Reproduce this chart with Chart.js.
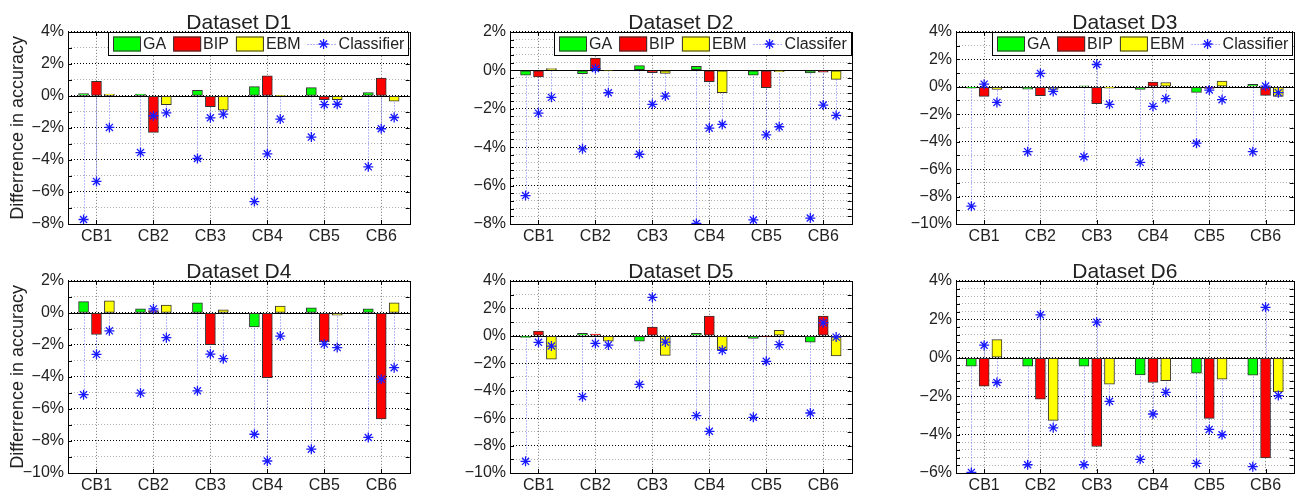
<!DOCTYPE html>
<html>
<head>
<meta charset="utf-8">
<script src="https://cdn.jsdelivr.net/npm/chart.js@4.4.0/dist/chart.umd.min.js"></script>
<style>
  body { margin: 0; background: #fff; width: 1299px; height: 497px; overflow: hidden; position: relative; }
  .panel { position: absolute; }
</style>
</head>
<body>
<script>
var categories = ['CB1', 'CB2', 'CB3', 'CB4', 'CB5', 'CB6'];
var methods = ['GA', 'BIP', 'EBM'];

// D1
var gaD1  = [0.15, 0.12, 0.35, 0.58, 0.52, 0.21];
var bipD1 = [0.91, -2.28, -0.68, 1.26, -0.23, 1.12];
var ebmD1 = [0.12, -0.54, -0.89, 0.02, -0.23, -0.33];
var clsD1 = [[-7.72, -5.34, -1.97], [-3.54, -1.24, -1.06], [-3.91, -1.37, -1.14], [-6.6, -3.62, -1.45], [-2.57, -0.54, -0.52], [-4.43, -2.05, -1.35]];
// D2
var gaD2  = [-0.26, -0.17, 0.24, 0.21, -0.26, -0.14];
var bipD2 = [-0.35, 0.63, -0.12, -0.59, -0.9, -0.1];
var ebmD2 = [0.09, -0.03, -0.16, -1.17, -0.07, -0.47];
var clsD2 = [[-6.52, -2.23, -1.41], [-4.09, 0.09, -1.17], [-4.37, -1.77, -1.34], [-7.97, -3.01, -2.82], [-7.79, -3.36, -2.94], [-7.69, -1.81, -2.35]];
// D3
var gaD3  = [-0.1, -0.17, 0.07, -0.19, -0.41, 0.17];
var bipD3 = [-0.7, -0.65, -1.23, 0.34, -0.12, -0.63];
var ebmD3 = [-0.19, -0.19, -0.1, 0.31, 0.41, -0.7];
var clsD3 = [[-8.7, 0.19, -1.14], [-4.73, 0.97, -0.34], [-5.1, 1.62, -1.28], [-5.51, -1.43, -0.87], [-4.11, -0.24, -0.94], [-4.73, 0.05, -0.43]];
// D4
var gaD4  = [0.7, 0.25, 0.62, -0.87, 0.31, 0.25];
var bipD4 = [-1.35, 0.14, -1.99, -4.04, -1.82, -6.63];
var ebmD4 = [0.75, 0.48, 0.19, 0.43, -0.14, 0.62];
var clsD4 = [[-5.11, -2.59, -1.12], [-5.01, 0.25, -1.55], [-4.87, -2.57, -2.86], [-7.58, -9.25, -1.45], [-8.51, -1.95, -2.17], [-7.78, -4.14, -3.42]];
// D5
var gaD5  = [-0.12, 0.17, -0.39, 0.17, -0.19, -0.46];
var bipD5 = [0.34, 0.12, 0.63, 1.43, -0.03, 1.43];
var ebmD5 = [-1.71, -0.39, -1.43, -1.04, 0.39, -1.47];
var clsD5 = [[-9.15, -0.48, -0.75], [-4.44, -0.56, -0.68], [-3.55, 2.8, -0.46], [-5.82, -6.96, -1.06], [-5.94, -1.86, -0.65], [-5.63, 0.94, -0.1]];
// D6
var gaD6  = [-0.44, -0.44, -0.44, -0.89, -0.8, -0.91];
var bipD6 = [-1.48, -2.16, -4.62, -1.29, -3.16, -5.22];
var ebmD6 = [0.94, -3.26, -1.38, -1.2, -1.12, -1.78];
var clsD6 = [[-5.97, 0.65, -1.29], [-5.57, 2.23, -3.65], [-5.57, 1.85, -2.27], [-5.29, -2.93, -1.8], [-5.5, -3.73, -4.01], [-5.67, 2.62, -1.97]];

var FONT = '"Liberation Sans", Arial, sans-serif';
var SLOT = 0.227;          // distance between bars of one group, in category units
var BAR_W = 10;
var TITLE_LH = 0.85;
var Y_AXIS_W = 68, X_AXIS_H = 24, TITLE_H = 21 * TITLE_LH, PAD_R = 3;

var panels = [
  { name: 'D1', ga: gaD1, bip: bipD1, ebm: ebmD1, cls: clsD1, min: -8,  max: 4, minor: 1,   legend: 'Classifier', yTitle: true, box: [68, 32, 413, 224] },
  { name: 'D2', ga: gaD2, bip: bipD2, ebm: ebmD2, cls: clsD2, min: -8,  max: 2, minor: 0.4, legend: 'Classifer', box: [510, 32, 855, 224] },
  { name: 'D3', ga: gaD3, bip: bipD3, ebm: ebmD3, cls: clsD3, min: -10, max: 4, minor: 1,   legend: 'Classifier', box: [956, 32, 1297, 224] },
  { name: 'D4', ga: gaD4, bip: bipD4, ebm: ebmD4, cls: clsD4, min: -10, max: 2, minor: 1,   yTitle: true, box: [68, 281, 413, 473] },
  { name: 'D5', ga: gaD5, bip: bipD5, ebm: ebmD5, cls: clsD5, min: -10, max: 4, minor: 1,   box: [510, 281, 855, 473] },
  { name: 'D6', ga: gaD6, bip: bipD6, ebm: ebmD6, cls: clsD6, min: -6,  max: 4, minor: 0.4, box: [956, 281, 1297, 473] }
];

Chart.defaults.font.family = FONT;
Chart.defaults.color = '#222';

function isMajor(v) {
  return Math.abs(v / 2 - Math.round(v / 2)) < 1e-6;
}

function drawStar(ctx, x, y, r) {
  ctx.beginPath();
  ctx.moveTo(x - r, y); ctx.lineTo(x + r, y);
  ctx.moveTo(x, y - r); ctx.lineTo(x, y + r);
  var d = r * 0.7071;
  ctx.moveTo(x - d, y - d); ctx.lineTo(x + d, y + d);
  ctx.moveTo(x - d, y + d); ctx.lineTo(x + d, y - d);
  ctx.stroke();
}

function drawLegend(chart) {
  var ctx = chart.ctx, a = chart.chartArea, ds = chart.data.datasets;
  var pad = 5, pw = 28, ph = 15, gap = 7, h = 23;
  ctx.save();
  ctx.font = '16px ' + FONT;
  var widths = ds.map(function (d, i) { return pw + (i === 3 ? 3 : 2) + ctx.measureText(d.label).width; });
  var total = pad * 2 + gap * (ds.length - 1);
  widths.forEach(function (w) { total += w; });
  var x = Math.round(a.right - total), y = Math.round(a.top);
  ctx.fillStyle = '#fff';
  ctx.fillRect(x, y, total, h);
  ctx.strokeStyle = '#000';
  ctx.lineWidth = 1;
  ctx.strokeRect(x + 0.5, y + 0.5, Math.round(total) - 1, h);
  var cy = y + h / 2 + 0.5;
  var cx = x + pad;
  ctx.textBaseline = 'middle';
  ds.forEach(function (d, i) {
    if (i < 3) {
      ctx.fillStyle = d.backgroundColor;
      ctx.fillRect(cx, cy - ph / 2, pw, ph);
      ctx.strokeStyle = '#333';
      ctx.strokeRect(cx + 0.5, cy - ph / 2 + 0.5, pw - 1, ph - 1);
      ctx.fillStyle = '#222';
      ctx.fillText(d.label, cx + pw + 2, cy + 1);
    } else {
      ctx.strokeStyle = 'rgba(70,70,255,0.8)';
      ctx.setLineDash([1, 2]);
      ctx.beginPath(); ctx.moveTo(cx, Math.round(cy) + 0.5); ctx.lineTo(cx + pw, Math.round(cy) + 0.5); ctx.stroke();
      ctx.setLineDash([]);
      ctx.strokeStyle = '#1a1aff';
      ctx.lineWidth = 1.3;
      drawStar(ctx, cx + pw / 2 + 2, cy, 5);
      ctx.lineWidth = 1;
      ctx.fillStyle = '#222';
      ctx.fillText(d.label, cx + pw + 3, cy + 1);
    }
    cx += widths[i] + gap;
  });
  ctx.restore();
}

var decor = {
  id: 'decor',
  beforeDatasetsDraw: function (chart) {
    var ctx = chart.ctx, a = chart.chartArea, ys = chart.scales.y;
    var y0 = Math.round(ys.getPixelForValue(0)) + 0.5;
    ctx.save();
    // stems of the classifier points
    ctx.strokeStyle = 'rgba(70,70,255,0.75)';
    ctx.lineWidth = 1;
    ctx.setLineDash([1, 2]);
    chart.getDatasetMeta(3).data.forEach(function (pt) {
      var px = Math.round(pt.x) + 0.5;
      ctx.beginPath(); ctx.moveTo(px, y0); ctx.lineTo(px, pt.y); ctx.stroke();
    });
    ctx.setLineDash([]);
    ctx.strokeStyle = '#000';
    ctx.beginPath(); ctx.moveTo(a.left, y0); ctx.lineTo(a.right, y0); ctx.stroke();
    ctx.restore();
  },
  afterDatasetsDraw: function (chart, args, opts) {
    var ctx = chart.ctx, a = chart.chartArea, ys = chart.scales.y, xs = chart.scales.x;
    ctx.save();
    ctx.strokeStyle = '#000';
    ctx.lineWidth = 1;
    ctx.beginPath();
    ys.ticks.forEach(function (t) {
      var py = Math.round(ys.getPixelForValue(t.value)) + 0.5;
      ctx.moveTo(a.left, py); ctx.lineTo(a.left + 4, py);
      ctx.moveTo(a.right, py); ctx.lineTo(a.right - 4, py);
    });
    categories.forEach(function (c, i) {
      var px = Math.round(xs.getPixelForValue(i)) + 0.5;
      ctx.moveTo(px, a.top); ctx.lineTo(px, a.top + 4);
      ctx.moveTo(px, a.bottom); ctx.lineTo(px, a.bottom - 4);
    });
    ctx.stroke();
    ctx.strokeRect(Math.round(a.left) + 0.5, Math.round(a.top) + 0.5, Math.round(a.right - a.left), Math.round(a.bottom - a.top));
    ctx.restore();
    if (opts.legend) drawLegend(chart);
  }
};

panels.forEach(function (p) {
  var left = p.box[0] - Y_AXIS_W;
  var top = Math.round(p.box[1] - TITLE_H);
  var w = p.box[2] - left + PAD_R;
  var h = p.box[3] - top + X_AXIS_H;
  var div = document.createElement('div');
  div.className = 'panel';
  div.style.left = left + 'px';
  div.style.top = top + 'px';
  div.style.width = w + 'px';
  div.style.height = h + 'px';
  var canvas = document.createElement('canvas');
  canvas.width = w;
  canvas.height = h;
  div.appendChild(canvas);
  document.body.appendChild(div);

  var points = [];
  p.cls.forEach(function (vals, i) {
    vals.forEach(function (v, k) {
      points.push({ x: i + (k - 1) * SLOT, y: v });
    });
  });

  function barSet(label, values, k, color) {
    return {
      type: 'bar', label: label,
      data: values.map(function (v, i) { return { x: i + (k - 1) * SLOT, y: v }; }),
      backgroundColor: color, borderColor: '#333', borderWidth: 1, borderSkipped: false,
      grouped: false, barThickness: BAR_W, order: 1
    };
  }

  new Chart(canvas.getContext('2d'), {
    type: 'bar',
    data: {
      datasets: [
        barSet(methods[0], p.ga, 0, '#00ff00'),
        barSet(methods[1], p.bip, 1, '#ff0000'),
        barSet(methods[2], p.ebm, 2, '#ffff00'),
        {
          type: 'scatter', label: p.legend || 'Classifier', data: points,
          showLine: false, pointStyle: 'star', pointRadius: 5, pointBorderColor: '#1a1aff',
          pointBackgroundColor: '#1a1aff', pointBorderWidth: 1.3, order: 0
        }
      ]
    },
    options: {
      responsive: false,
      animation: false,
      devicePixelRatio: 1,
      layout: { padding: { left: 0, right: PAD_R, top: 0, bottom: 0 } },
      plugins: {
        legend: { display: false },
        tooltip: { enabled: false },
        title: {
          display: true, text: 'Dataset ' + p.name, color: '#222', fullSize: false,
          font: { size: 21, weight: 'normal', lineHeight: TITLE_LH }, padding: { top: 0, bottom: 0 }
        },
        decor: { legend: !!p.legend }
      },
      scales: {
        x: {
          type: 'linear', min: -0.5, max: 5.5, offset: false,
          afterBuildTicks: function (s) {
            s.ticks = categories.map(function (c, i) { return { value: i }; });
          },
          grid: { offset: false, color: '#777', drawTicks: false },
          border: { display: false, dash: [1, 2] },
          ticks: {
            font: { size: 16 }, color: '#222', padding: 3, maxRotation: 0, autoSkip: false,
            callback: function (v) { return categories[Math.round(v)]; }
          },
          afterFit: function (s) { s.height = X_AXIS_H; }
        },
        y: {
          min: p.min, max: p.max,
          grid: {
            drawTicks: false,
            color: function (c) { return isMajor(c.tick.value) ? '#000' : '#b0b0b0'; }
          },
          border: { display: false, dash: [1, 2] },
          ticks: {
            stepSize: p.minor, autoSkip: false, padding: 4, color: '#222', font: { size: 16 },
            callback: function (v) {
              if (!isMajor(v)) return '';
              var n = Math.round(v);
              return (n < 0 ? '\u2212' : '') + Math.abs(n) + '%';
            }
          },
          title: {
            display: !!p.yTitle, text: 'Differrence in accuracy', color: '#222',
            font: { size: 18 }, padding: { top: 7, bottom: 0 }
          },
          afterFit: function (s) { s.width = Y_AXIS_W; }
        }
      }
    },
    plugins: [decor]
  });
});
</script>
</body>
</html>
